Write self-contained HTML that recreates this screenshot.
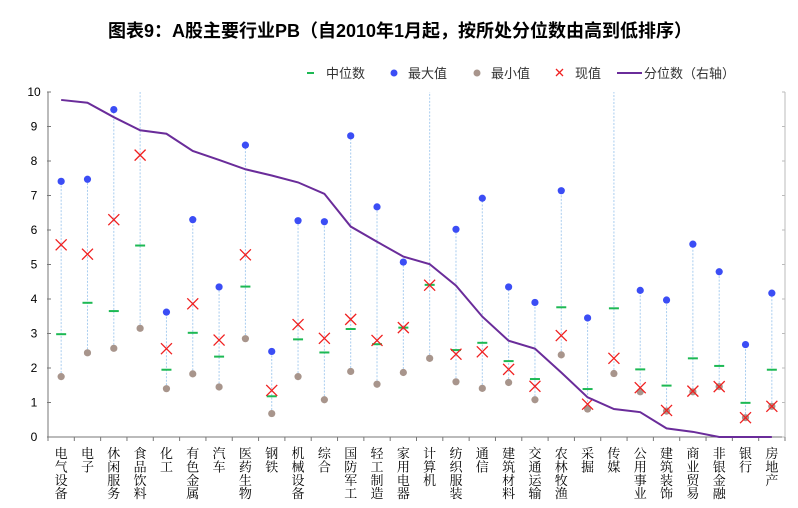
<!DOCTYPE html>
<html><head><meta charset="utf-8"><style>
body{margin:0;background:#fff;}
svg{display:block;}
</style></head><body>
<svg id="c" width="798" height="508" xmlns="http://www.w3.org/2000/svg">
<text x="400" y="37" text-anchor="middle" font-family="'Liberation Sans','Noto Sans CJK SC',sans-serif" font-weight="bold" font-size="18" fill="#000">图表9：A股主要行业PB（自2010年1月起，按所处分位数由高到低排序）</text>
<g font-family="'Liberation Sans','Noto Sans CJK SC',sans-serif" font-size="13" fill="#333">
<g><line x1="307" y1="73" x2="314" y2="73" stroke="#1db954" stroke-width="2"/><text x="326" y="78">中位数</text></g>
<g><circle cx="394" cy="73" r="3.5" fill="#3b4df5"/><text x="408" y="78">最大值</text></g>
<g><circle cx="477" cy="73" r="3.5" fill="#a8958c"/><text x="491" y="78">最小值</text></g>
<g><path d="M556,69 l7,7 M563,69 l-7,7" stroke="#f02020" stroke-width="1.3"/><text x="575" y="78">现值</text></g>
<g><line x1="617" y1="73" x2="642" y2="73" stroke="#6a2c9a" stroke-width="2"/><text x="644" y="78">分位数（右轴）</text></g>
</g>
<g id="plot"></g>
</svg>
<script>
const categories=["电气设备","电子","休闲服务","食品饮料","化工","有色金属","汽车","医药生物","钢铁","机械设备","综合","国防军工","轻工制造","家用电器","计算机","纺织服装","通信","建筑材料","交通运输","农林牧渔","采掘","传媒","公用事业","建筑装饰","商业贸易","非银金融","银行","房地产"];
const maxVals=[7.41,7.47,9.49,12,3.62,6.30,4.35,8.46,2.48,6.27,6.24,8.73,6.67,5.07,12,6.02,6.92,4.35,3.90,7.14,3.45,12,4.25,3.97,5.59,4.79,2.68,4.17];
const medianVals=[2.98,3.89,3.65,5.55,1.95,3.02,2.33,4.36,1.18,2.83,2.45,3.13,2.69,3.17,4.41,2.52,2.73,2.20,1.68,3.76,1.39,3.73,1.96,1.49,2.28,2.06,0.99,1.95];
const minVals=[1.75,2.44,2.57,3.15,1.40,1.83,1.45,2.85,0.68,1.75,1.08,1.90,1.53,1.87,2.28,1.60,1.41,1.58,1.08,2.38,0.81,1.84,1.31,0.75,1.31,1.46,0.56,0.89];
const currentVals=[5.57,5.30,6.30,8.17,2.56,3.86,2.81,5.28,1.35,3.26,2.86,3.41,2.80,3.17,4.40,2.40,2.47,1.96,1.47,2.94,0.95,2.28,1.43,0.77,1.33,1.46,0.56,0.89];
const percentileVals=[97.7,96.9,92.7,88.9,87.9,82.9,80.3,77.6,75.8,73.8,70.5,61.0,56.6,52.3,50.1,43.9,34.9,27.9,25.6,18.7,11.5,8.1,7.2,2.5,1.5,0,0,0];
const yTicks=[0,1,2,3,4,5,6,7,8,9,10];

const L=48,R=785,T=92,B=437;
const NS="http://www.w3.org/2000/svg";
const g=document.getElementById('plot');
const bw=(R-L)/categories.length;
function xS(i){return L+(i+0.5)*bw;}
function yS(v){return B-(Math.min(v,10)/10)*(B-T);}
function yR(p){return B-(p/100)*(B-T);}
function el(tag,attrs){const e=document.createElementNS(NS,tag);for(const k in attrs)e.setAttribute(k,attrs[k]);g.appendChild(e);return e;}

let a=el('line',{x1:L,y1:T,x2:L,y2:B,stroke:'#777','stroke-width':1});


a=el('line',{x1:R,y1:T,x2:R,y2:B,stroke:'#bbb','stroke-width':1});


a=el('line',{x1:L,y1:B,x2:R,y2:B,stroke:'#777','stroke-width':1});


yTicks.forEach(t=>{
  const y=yS(t);
  el('line',{x1:L-1,y1:y,x2:L+3,y2:y,stroke:'#777'});
  el('line',{x1:R-3,y1:y,x2:R,y2:y,stroke:'#bbb'});
  const tx=el('text',{x:34,y:y+4,'text-anchor':'middle','font-size':12,'font-family':"'Liberation Sans',sans-serif",fill:'#000'});
  tx.textContent=t;
  
  
});
for(let i=0;i<=categories.length;i++){el('line',{x1:L+i*bw,y1:B,x2:L+i*bw,y2:B+4,stroke:'#777'});}

categories.forEach((c,i)=>{
  const x=xS(i);
  const rng=el('line',{x1:x,y1:yS(minVals[i]),x2:x,y2:yS(maxVals[i]),stroke:'#a9cdef','stroke-width':1,'stroke-dasharray':'2,1.5'});
  
  
  if(maxVals[i]<=10){
    const mx=el('circle',{cx:x,cy:yS(maxVals[i]),r:3.6,fill:'#3b4df5'});
    
    
  }
  const mn=el('circle',{cx:x,cy:yS(minVals[i]),r:3.6,fill:'#a8958c'});
  
  
  const md=el('line',{x1:x-5,y1:yS(medianVals[i]),x2:x+5,y2:yS(medianVals[i]),stroke:'#1db954','stroke-width':2});
  
  
  const cy=yS(currentVals[i]);
  const cu=el('path',{d:`M${x-5.5},${cy-5.5}L${x+5.5},${cy+5.5}M${x+5.5},${cy-5.5}L${x-5.5},${cy+5.5}`,stroke:'#f02020','stroke-width':1.3,fill:'none'});
  
  
  const lb=el('text',{x:x,y:458,'text-anchor':'middle','font-size':13,'font-family':"'Noto Serif CJK SC',serif",fill:'#000'});
  
  
  [...c].forEach((ch,k)=>{const ts=document.createElementNS(NS,'tspan');ts.setAttribute('x',x);ts.setAttribute('y',458+k*13.4);ts.textContent=ch;lb.appendChild(ts);});
});
const pts=percentileVals.map((p,i)=>`${xS(i)},${yR(p)}`).join(' ');
const pl=el('polyline',{points:pts,fill:'none',stroke:'#6a2c9a','stroke-width':2});


</script>
</body></html>
